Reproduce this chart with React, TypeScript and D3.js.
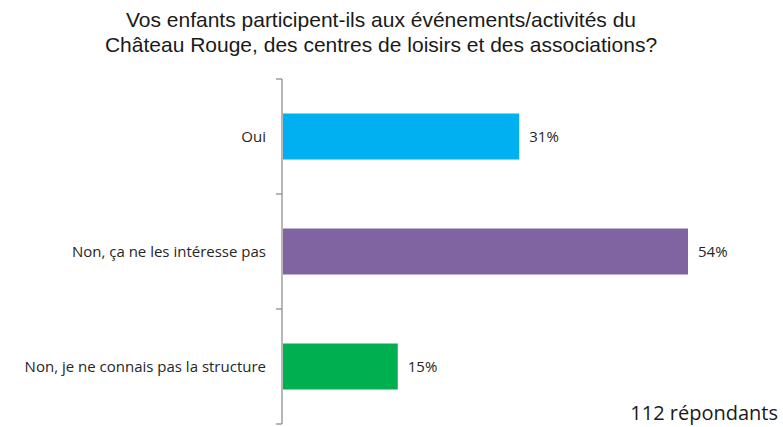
import React from "react";
import * as d3 from "d3";

const categories = ["Oui", "Non, ça ne les intéresse pas", "Non, je ne connais pas la structure"];
const values = [31.25, 53.57, 15.18];
const valueLabels = ["31%", "54%", "15%"];
const colors = ["#00B0F0", "#8064A2", "#00B050"];
const titleLines = [
  "Vos enfants participent-ils aux événements/activités du",
  "Château Rouge, des centres de loisirs et des associations?",
];
const footnote = "112 répondants";

export default function App() {
  const W = 783, H = 427;
  const x = d3.scaleLinear().domain([0, 100]).range([282, 1038]);
  const y = d3.scaleBand<string>().domain(categories).range([79, 424]).paddingInner(0.6).paddingOuter(0.3);
  const tickYs = [0, 1, 2, 3].map((i) => 79 + i * y.step());
  const labelFont = "'Open Sans', 'Noto Sans', sans-serif";
  return (
    <svg width={W} height={H} style={{ position: "absolute", left: 0, top: 0, background: "#fff" }}>
      {titleLines.map((t, i) => (
        <text key={i} x={381} y={27 + i * 25} textAnchor="middle" fontFamily="'Liberation Sans', Arial, sans-serif" fontSize={21} fill="#1a1a1a">{t}</text>
      ))}
      {categories.map((c, i) => (
        <g key={c}>
          <rect x={x(0) + 1} y={y(c)!} width={x(values[i]) - x(0)} height={y.bandwidth()} fill={colors[i]} />
          <text x={x(values[i]) + 11} y={y(c)! + y.bandwidth() / 2} dy="0.35em" fontFamily={labelFont} fontSize={15} fill="#262626">{valueLabels[i]}</text>
          <text x={266} y={y(c)! + y.bandwidth() / 2} dy="0.35em" textAnchor="end" fontFamily={labelFont} fontSize={15} fill="#262626">{c}</text>
        </g>
      ))}
      <line x1={282} x2={282} y1={79} y2={424} stroke="#868686" strokeWidth={1.2} />
      {tickYs.map((ty, i) => (
        <line key={i} x1={276} x2={282} y1={ty} y2={ty} stroke="#868686" strokeWidth={1.2} />
      ))}
      <text x={778} y={420} textAnchor="end" fontFamily={labelFont} fontSize={20} fill="#1a1a1a">{footnote}</text>
    </svg>
  );
}
